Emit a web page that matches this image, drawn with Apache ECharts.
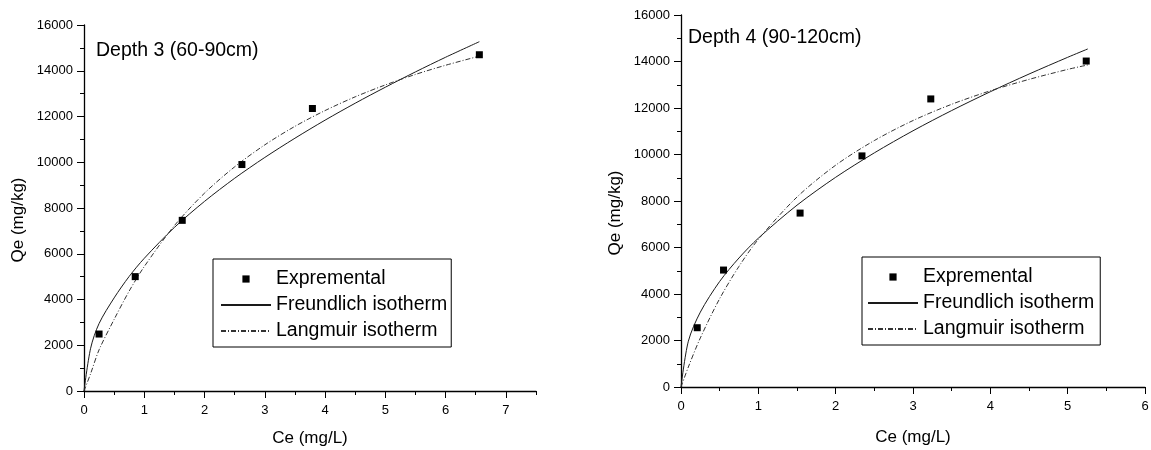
<!DOCTYPE html>
<html>
<head>
<meta charset="utf-8">
<script src="https://cdn.jsdelivr.net/npm/echarts@6/dist/echarts.min.js"></script>
<style>
html,body{margin:0;padding:0;background:#fff;}
#chart{width:1151px;height:450px;}
</style>
</head>
<body>
<div id="chart"></div>
<script>
// Depth 3 (60-90cm) experimental points
var d3Ce = [0.25, 0.85, 1.63, 2.62, 3.79, 6.56];
var d3Qe = [2490, 5000, 7460, 9900, 12350, 14700];
// Depth 3 fitted curves
var d3FitCe = [0, 0.11, 0.25, 0.5, 0.75, 1, 1.5, 2, 2.5, 3, 3.5, 4, 4.5, 5, 5.5, 6, 6.56];
var d3Freundlich = [0, 1870, 2950, 4070, 5010, 5800, 7150, 8290, 9300, 10210, 11050, 11840, 12580, 13280, 13950, 14590, 15270];
var d3Langmuir = [0, 760, 1800, 3130, 4370, 5440, 7230, 8650, 9800, 10760, 11570, 12260, 12860, 13380, 13840, 14240, 14640];

// Depth 4 (90-120cm) experimental points
var d4Ce = [0.21, 0.55, 1.54, 2.34, 3.23, 5.24];
var d4Qe = [2550, 5030, 7480, 9940, 12390, 14020];
// Depth 4 fitted curves
var d4FitCe = [0, 0.095, 0.25, 0.5, 0.75, 1, 1.5, 2, 2.5, 3, 3.5, 4, 4.5, 5, 5.26];
var d4Freundlich = [0, 1970, 3220, 4540, 5550, 6400, 7820, 9020, 10070, 11020, 11890, 12700, 13460, 14180, 14540];
var d4Langmuir = [0, 860, 2110, 3800, 5190, 6350, 8170, 9540, 10600, 11460, 12160, 12740, 13230, 13660, 13850];

// tick labels
var leftMajorTicks = [0, 1, 2, 3, 4, 5, 6, 7];
var leftMinorTicks = [0.5, 1.5, 2.5, 3.5, 4.5, 5.5, 6.5, 7.5];

var FONT = '"Liberation Sans", Arial, sans-serif';

function pairs(xs, ys) {
    var out = [];
    for (var i = 0; i < xs.length; i++) out.push([xs[i], ys[i]]);
    return out;
}

var axisLine = {show: true, lineStyle: {color: '#000', width: 1.3}};
var labelStyle = {color: '#000', fontSize: 13, fontFamily: FONT};
var nameStyle = {color: '#000', fontSize: 17, fontFamily: FONT};

function yAxis(gridIndex) {
    return {
        type: 'value', gridIndex: gridIndex, min: 0, max: 16000, interval: 2000,
        name: 'Qe (mg/kg)', nameLocation: 'middle', nameGap: 57,
        nameTextStyle: Object.assign({padding: [0, 24, 0, 0]}, nameStyle),
        axisLine: axisLine,
        axisTick: {show: true, inside: false, length: 7, lineStyle: {color: '#000', width: 1}},
        minorTick: {show: true, splitNumber: 2, length: 4, lineStyle: {color: '#000', width: 1}},
        axisLabel: Object.assign({margin: 11, formatter: function (v) { return String(v); }}, labelStyle),
        splitLine: {show: false}
    };
}

function legend(left, top, padding) {
    return {
        orient: 'vertical', left: left, top: top, padding: padding,
        itemWidth: 50, itemHeight: 9, itemGap: 6,
        borderColor: '#000', borderWidth: 1, backgroundColor: '#fff',
        selectedMode: false,
        textStyle: {color: '#000', fontSize: 19.5, fontFamily: FONT},
        data: [
            {name: 'Expremental', lineStyle: {opacity: 0}},
            {name: 'Freundlich isotherm', itemStyle: {opacity: 0}},
            {name: 'Langmuir isotherm', itemStyle: {opacity: 0}}
        ]
    };
}

// points only: a line series with its line hidden, so the legend shows a small square
function points(name, xi, yi, xs, ys) {
    return {
        name: name, type: 'line', xAxisIndex: xi, yAxisIndex: yi,
        symbol: 'rect', symbolSize: 7, showSymbol: true,
        lineStyle: {opacity: 0, width: 0},
        itemStyle: {color: '#000'},
        data: pairs(xs, ys), z: 5
    };
}

function curve(name, xi, yi, xs, ys, dash, color) {
    return {
        name: name, type: 'line', xAxisIndex: xi, yAxisIndex: yi,
        showSymbol: false, symbol: 'none', smooth: 0.3,
        lineStyle: {color: color, width: 1, type: dash},
        itemStyle: {color: color},
        data: pairs(xs, ys)
    };
}

var chart = echarts.init(document.getElementById('chart'));
var option = {
    backgroundColor: '#fff',
    animation: false,
    title: [
        {text: 'Depth 3 (60-90cm)', left: 96, top: 41, padding: 0,
         textStyle: {color: '#000', fontSize: 19.5, fontWeight: 'normal', fontFamily: FONT}},
        {text: 'Depth 4 (90-120cm)', left: 688, top: 28, padding: 0,
         textStyle: {color: '#000', fontSize: 19.5, fontWeight: 'normal', fontFamily: FONT}}
    ],
    legend: [
        legend(213, 259, [10, 4, 6, 7]),
        legend(862, 257, [10, 6, 6, 5])
    ],
    grid: [
        {left: 84, top: 25, width: 452, height: 366, containLabel: false, outerBoundsMode: 'none'},
        {left: 681, top: 15, width: 464, height: 372, containLabel: false, outerBoundsMode: 'none'}
    ],
    xAxis: [
        {
            type: 'value', gridIndex: 0, min: 0, max: 7.5,
            name: 'Ce (mg/L)', nameLocation: 'middle', nameGap: 39, nameTextStyle: nameStyle,
            axisLine: axisLine,
            axisTick: {show: true, inside: false, length: 7, customValues: leftMajorTicks, lineStyle: {color: '#000', width: 1}},
            axisLabel: Object.assign({margin: 13, customValues: leftMajorTicks}, labelStyle),
            splitLine: {show: false}
        },
        {
            type: 'value', gridIndex: 0, min: 0, max: 7.5, position: 'bottom',
            axisLine: {show: false},
            axisTick: {show: true, inside: false, length: 4, customValues: leftMinorTicks, lineStyle: {color: '#000', width: 1}},
            axisLabel: {show: false},
            splitLine: {show: false}
        },
        {
            type: 'value', gridIndex: 1, min: 0, max: 6, interval: 1,
            name: 'Ce (mg/L)', nameLocation: 'middle', nameGap: 42, nameTextStyle: nameStyle,
            axisLine: axisLine,
            axisTick: {show: true, inside: false, length: 7, lineStyle: {color: '#000', width: 1}},
            minorTick: {show: true, splitNumber: 2, length: 4, lineStyle: {color: '#000', width: 1}},
            axisLabel: Object.assign({margin: 13}, labelStyle),
            splitLine: {show: false}
        }
    ],
    yAxis: [yAxis(0), yAxis(1)],
    series: [
        curve('Freundlich isotherm', 0, 0, d3FitCe, d3Freundlich, 'solid', '#1a1a1a'),
        curve('Langmuir isotherm', 0, 0, d3FitCe, d3Langmuir, [5, 2, 1, 2], '#333'),
        points('Expremental', 0, 0, d3Ce, d3Qe),
        curve('Freundlich isotherm', 2, 1, d4FitCe, d4Freundlich, 'solid', '#1a1a1a'),
        curve('Langmuir isotherm', 2, 1, d4FitCe, d4Langmuir, [5, 2, 1, 2], '#333'),
        points('Expremental', 2, 1, d4Ce, d4Qe)
    ]
};
chart.setOption(option);
</script>
</body>
</html>
